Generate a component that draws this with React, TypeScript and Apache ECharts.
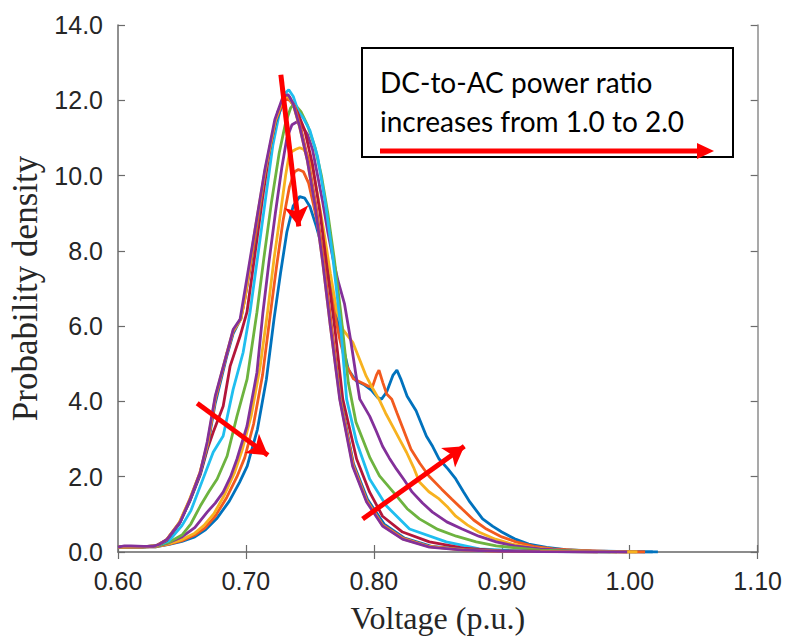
import React, { useEffect, useRef } from "react";
import * as echarts from "echarts";

// Tick values
const xMin = 0.6;
const xMax = 1.1;
const xStep = 0.1;
const yMin = 0;
const yMax = 14;
const yStep = 2;

const ratioNames = ["1.0", "1.1", "1.2", "1.3", "1.4", "1.5", "1.6", "1.7", "1.8", "1.9", "2.0"];
const colors = ["#0072BD", "#F25A1E", "#F7B21F", "#83309A", "#6DB33F", "#1FBEEF", "#B3163A", "#0072BD", "#F25A1E", "#F7B21F", "#83309A"];

// [voltage p.u., probability density]
const r10 = [[0.600,0.13],[0.610,0.15],[0.620,0.14],[0.630,0.14],[0.640,0.20],[0.650,0.28],[0.660,0.40],[0.668,0.58],[0.677,0.88],[0.687,1.35],[0.695,1.85],[0.701,2.28],[0.709,3.26],[0.716,4.59],[0.722,6.2],[0.727,7.4],[0.732,8.5],[0.737,9.2],[0.742,9.44],[0.746,9.4],[0.750,9.18],[0.755,8.65],[0.760,8.04],[0.765,7.32],[0.769,6.71],[0.775,5.6],[0.780,4.85],[0.786,4.55],[0.792,4.45],[0.798,4.3],[0.803,4.1],[0.806,4.06],[0.810,4.25],[0.815,4.7],[0.818,4.83],[0.821,4.6],[0.826,4.14],[0.833,3.75],[0.841,3.08],[0.846,2.8],[0.851,2.47],[0.858,2.2],[0.864,1.94],[0.870,1.6],[0.875,1.33],[0.885,0.88],[0.893,0.68],[0.900,0.53],[0.910,0.35],[0.921,0.21],[0.935,0.12],[0.950,0.06],[0.970,0.03],[1.000,0.01],[1.022,0.0]];
const r11 = [[0.600,0.13],[0.620,0.14],[0.630,0.14],[0.640,0.21],[0.650,0.3],[0.660,0.45],[0.668,0.64],[0.676,0.95],[0.685,1.45],[0.693,2.0],[0.699,2.5],[0.706,3.4],[0.713,4.7],[0.719,6.3],[0.724,7.6],[0.729,8.8],[0.734,9.7],[0.738,10.1],[0.741,10.16],[0.745,10.1],[0.749,9.8],[0.753,9.2],[0.758,8.4],[0.763,7.5],[0.768,6.6],[0.773,5.7],[0.778,5.0],[0.784,4.6],[0.790,4.5],[0.796,4.4],[0.799,4.4],[0.802,4.7],[0.804,4.83],[0.807,4.5],[0.810,4.2],[0.814,4.06],[0.818,3.7],[0.822,3.35],[0.829,2.73],[0.836,2.35],[0.843,2.02],[0.853,1.67],[0.861,1.4],[0.869,1.14],[0.878,0.85],[0.888,0.61],[0.900,0.4],[0.911,0.27],[0.925,0.15],[0.940,0.08],[0.960,0.04],[0.990,0.01],[1.012,0.0]];
const r12 = [[0.600,0.13],[0.620,0.14],[0.630,0.15],[0.640,0.22],[0.650,0.33],[0.660,0.5],[0.667,0.7],[0.675,1.02],[0.683,1.5],[0.691,2.1],[0.697,2.7],[0.704,3.6],[0.711,4.9],[0.717,6.4],[0.722,7.8],[0.727,9.0],[0.731,10.0],[0.734,10.6],[0.739,10.7],[0.742,10.74],[0.745,10.7],[0.748,10.55],[0.752,10.2],[0.756,9.5],[0.761,8.5],[0.766,7.4],[0.771,6.4],[0.776,5.9],[0.7835,5.57],[0.789,5.1],[0.794,4.67],[0.799,4.35],[0.804,4.06],[0.809,3.7],[0.8145,3.35],[0.820,3.0],[0.8255,2.65],[0.831,2.25],[0.8356,1.86],[0.843,1.6],[0.851,1.41],[0.858,1.18],[0.864,0.95],[0.873,0.72],[0.882,0.53],[0.895,0.34],[0.908,0.21],[0.925,0.11],[0.945,0.05],[0.970,0.02],[1.005,0.0]];
const r13 = [[0.600,0.13],[0.620,0.14],[0.630,0.15],[0.640,0.25],[0.650,0.4],[0.660,0.65],[0.6697,1.06],[0.676,1.3],[0.6822,1.59],[0.688,2.0],[0.693,2.47],[0.7008,3.34],[0.7086,4.77],[0.7133,6.37],[0.718,7.7],[0.723,9.0],[0.728,10.2],[0.732,11.0],[0.736,11.35],[0.740,11.43],[0.744,11.3],[0.748,11.1],[0.752,10.7],[0.756,10.0],[0.760,9.3],[0.764,8.5],[0.768,7.8],[0.772,7.2],[0.777,6.6],[0.782,5.6],[0.786,4.7],[0.789,4.06],[0.7967,3.61],[0.802,3.2],[0.8068,2.81],[0.812,2.5],[0.8177,2.2],[0.824,1.9],[0.830,1.59],[0.838,1.3],[0.8458,1.06],[0.857,0.8],[0.869,0.61],[0.882,0.42],[0.8956,0.27],[0.910,0.16],[0.930,0.08],[0.955,0.03],[0.985,0.01],[0.998,0.0]];
const r14 = [[0.600,0.13],[0.620,0.14],[0.630,0.15],[0.640,0.26],[0.650,0.45],[0.657,0.75],[0.6643,1.22],[0.671,1.6],[0.6775,1.94],[0.6853,2.55],[0.693,3.61],[0.7009,4.59],[0.7086,6.37],[0.714,7.8],[0.720,9.3],[0.726,10.6],[0.731,11.4],[0.735,11.8],[0.738,11.9],[0.743,11.7],[0.748,11.35],[0.754,10.75],[0.759,10.0],[0.764,9.0],[0.769,7.8],[0.774,6.4],[0.780,4.5],[0.786,3.45],[0.7912,3.0],[0.797,2.5],[0.8044,2.02],[0.8177,1.49],[0.826,1.15],[0.8356,0.88],[0.850,0.6],[0.8644,0.42],[0.880,0.27],[0.8956,0.16],[0.930,0.05],[0.960,0.02],[0.990,0.0]];
const r15 = [[0.600,0.13],[0.620,0.14],[0.630,0.16],[0.640,0.3],[0.645,0.5],[0.650,0.7],[0.657,1.1],[0.6643,1.75],[0.6744,2.65],[0.6822,3.08],[0.690,4.32],[0.6978,5.3],[0.7032,6.37],[0.709,7.8],[0.715,9.3],[0.721,10.8],[0.727,11.8],[0.731,12.2],[0.7335,12.28],[0.737,12.1],[0.741,11.7],[0.7446,11.54],[0.750,11.2],[0.756,10.5],[0.762,9.3],[0.768,7.8],[0.774,6.0],[0.7787,4.06],[0.7865,2.92],[0.7967,1.94],[0.8099,1.22],[0.8279,0.61],[0.8566,0.27],[0.8824,0.08],[0.920,0.02],[0.985,0.0]];
const r16 = [[0.600,0.13],[0.620,0.14],[0.630,0.17],[0.638,0.32],[0.648,0.76],[0.6565,1.38],[0.6643,2.05],[0.670,2.75],[0.6744,3.18],[0.6822,3.87],[0.6876,4.93],[0.6954,5.73],[0.7008,6.37],[0.707,7.9],[0.713,9.4],[0.719,10.8],[0.725,11.7],[0.730,12.05],[0.734,12.1],[0.740,11.7],[0.746,11.2],[0.752,10.3],[0.758,9.0],[0.764,7.4],[0.770,5.8],[0.7757,4.06],[0.7865,2.47],[0.7967,1.59],[0.8068,0.95],[0.8224,0.53],[0.8434,0.27],[0.870,0.1],[0.900,0.03],[0.975,0.0]];
const r17 = [[0.600,0.13],[0.620,0.14],[0.630,0.16],[0.638,0.3],[0.648,0.75],[0.656,1.35],[0.664,2.05],[0.670,2.8],[0.676,3.95],[0.685,5.2],[0.690,5.8],[0.696,6.2],[0.699,6.7],[0.708,8.5],[0.715,10.1],[0.723,11.4],[0.730,12.0],[0.734,12.05],[0.738,11.8],[0.743,11.2],[0.749,10.3],[0.755,9.1],[0.761,7.6],[0.767,5.9],[0.774,4.06],[0.784,2.35],[0.795,1.4],[0.808,0.74],[0.824,0.37],[0.845,0.15],[0.872,0.06],[0.905,0.02],[0.940,0.01],[1.018,0.0]];
const r18 = [[0.600,0.13],[0.620,0.14],[0.630,0.16],[0.638,0.32],[0.648,0.78],[0.656,1.38],[0.664,2.1],[0.670,2.85],[0.676,4.05],[0.685,5.25],[0.690,5.85],[0.696,6.2],[0.699,6.7],[0.708,8.55],[0.715,10.1],[0.723,11.45],[0.730,12.05],[0.734,12.0],[0.738,11.85],[0.743,11.25],[0.749,10.35],[0.755,9.15],[0.761,7.65],[0.767,5.95],[0.7738,4.06],[0.784,2.3],[0.7945,1.37],[0.807,0.72],[0.823,0.36],[0.844,0.14],[0.871,0.06],[0.900,0.02],[0.950,0.01],[1.012,0.0]];
const r19 = [[0.600,0.13],[0.620,0.14],[0.630,0.16],[0.638,0.33],[0.648,0.79],[0.656,1.4],[0.664,2.1],[0.670,2.9],[0.676,4.1],[0.685,5.28],[0.690,5.88],[0.696,6.18],[0.699,6.7],[0.707,8.55],[0.715,10.15],[0.723,11.47],[0.729,12.05],[0.733,12.1],[0.737,11.88],[0.742,11.28],[0.748,10.4],[0.754,9.2],[0.760,7.7],[0.766,6.0],[0.7735,4.06],[0.7836,2.3],[0.7944,1.35],[0.807,0.7],[0.8226,0.35],[0.8436,0.14],[0.870,0.05],[0.900,0.02],[0.950,0.01],[1.006,0.0]];
const r20 = [[0.600,0.13],[0.605,0.16],[0.610,0.16],[0.620,0.15],[0.6276,0.15],[0.632,0.2],[0.6385,0.34],[0.6487,0.8],[0.6565,1.41],[0.6643,2.12],[0.6697,2.92],[0.676,4.14],[0.6853,5.3],[0.690,5.91],[0.6954,6.18],[0.698,6.71],[0.7071,8.57],[0.7148,10.16],[0.7226,11.49],[0.729,12.1],[0.733,12.15],[0.737,11.9],[0.742,11.3],[0.748,10.4],[0.754,9.2],[0.760,7.7],[0.766,6.0],[0.7733,4.06],[0.7834,2.28],[0.7943,1.33],[0.8068,0.69],[0.8224,0.34],[0.8434,0.13],[0.870,0.05],[0.900,0.02],[0.930,0.01],[0.998,0.0]];
const curves = [r10, r11, r12, r13, r14, r15, r16, r17, r18, r19, r20];

// Annotation arrows in data coordinates: [x1, y1, x2, y2] (second point is the tip)
const arrows = [
  [0.7273, 12.68, 0.7413, 8.65],
  [0.6619, 3.95, 0.7172, 2.57],
  [0.7912, 0.875, 0.8707, 2.81],
];

const legendLines = ["DC-to-AC power ratio", "increases from 1.0 to 2.0"];

const AXIS_COLOR = "#6b6b6b";
const LABEL_COLOR = "#262626";

export default function App() {
  const ref = useRef<HTMLDivElement>(null);
  useEffect(() => {
    document.body.style.margin = "0";
    const chart = echarts.init(ref.current!, undefined, { renderer: "svg" });
    const series: any[] = curves.map((c, i) => ({
      name: ratioNames[i],
      type: "line",
      data: c,
      showSymbol: false,
      symbol: "none",
      lineStyle: { width: 2.8, color: colors[i] },
      itemStyle: { color: colors[i] },
      silent: true,
      z: 2 + i * 0.01,
    }));
    series.push({
      name: "arrows",
      type: "line",
      data: [],
      z: 5,
      markLine: {
        silent: true,
        symbol: ["none", "arrow"],
        symbolSize: [18, 20],
        label: { show: false },
        lineStyle: { color: "#FF0000", width: 5, type: "solid" },
        emphasis: { disabled: true },
        data: arrows.map((a) => [{ coord: [a[0], a[1]] }, { coord: [a[2], a[3]] }]),
      },
    });
    const tickCommon = { inside: true, length: 7, lineStyle: { color: AXIS_COLOR, width: 1.2 } };
    const legendText = (t: string, y: number) => ({
      type: "text",
      x: 380,
      y,
      style: {
        text: t,
        fontFamily: "Lato",
        fontSize: 28,
        fill: "#000000",
        align: "left",
        verticalAlign: "middle",
      },
      z: 11,
    });
    chart.setOption({
      animation: false,
      grid: { left: 118, right: 25, top: 25, bottom: 86 },
      xAxis: [
        {
          type: "value",
          min: xMin,
          max: xMax,
          interval: xStep,
          axisLine: { lineStyle: { color: AXIS_COLOR, width: 1.5 } },
          axisTick: tickCommon,
          splitLine: { show: false },
          axisLabel: {
            formatter: (v: number) => v.toFixed(2),
            color: LABEL_COLOR,
            fontSize: 25,
            fontFamily: "Liberation Sans",
            margin: 16,
          },
          name: "Voltage (p.u.)",
          nameLocation: "middle",
          nameGap: 50,
          nameTextStyle: { fontFamily: "Liberation Serif", fontSize: 32, color: LABEL_COLOR },
        },
        {
          type: "value",
          position: "top",
          min: xMin,
          max: xMax,
          interval: xStep,
          axisLine: { lineStyle: { color: "#8c8c8c", width: 1.5 } },
          axisTick: tickCommon,
          axisLabel: { show: false },
          splitLine: { show: false },
        },
      ],
      yAxis: [
        {
          type: "value",
          min: yMin,
          max: yMax,
          interval: yStep,
          axisLine: { show: true, lineStyle: { color: AXIS_COLOR, width: 1.5 } },
          axisTick: { show: true, ...tickCommon },
          splitLine: { show: false },
          axisLabel: {
            formatter: (v: number) => v.toFixed(1),
            color: LABEL_COLOR,
            fontSize: 25,
            fontFamily: "Liberation Sans",
            margin: 15,
          },
          name: "Probability density",
          nameLocation: "middle",
          nameGap: 70,
          nameTextStyle: { fontFamily: "Liberation Serif", fontSize: 35, color: LABEL_COLOR },
        },
        {
          type: "value",
          position: "right",
          min: yMin,
          max: yMax,
          interval: yStep,
          axisLine: { show: true, lineStyle: { color: "#8c8c8c", width: 1.5 } },
          axisTick: { show: true, ...tickCommon },
          axisLabel: { show: false },
          splitLine: { show: false },
        },
      ],
      graphic: [
        {
          type: "rect",
          shape: { x: 362, y: 48, width: 371, height: 109 },
          style: { fill: "#ffffff", stroke: "#000000", lineWidth: 2 },
          z: 10,
        },
        legendText(legendLines[0], 82),
        legendText(legendLines[1], 121),
        {
          type: "line",
          shape: { x1: 380, y1: 151, x2: 700, y2: 151 },
          style: { stroke: "#FF0000", lineWidth: 5 },
          z: 11,
        },
        {
          type: "polygon",
          shape: { points: [[697, 143], [714, 151], [697, 159]] },
          style: { fill: "#FF0000" },
          z: 11,
        },
      ],
      series,
    });
    return () => chart.dispose();
  }, []);
  return <div ref={ref} style={{ width: 785, height: 639 }} />;
}
